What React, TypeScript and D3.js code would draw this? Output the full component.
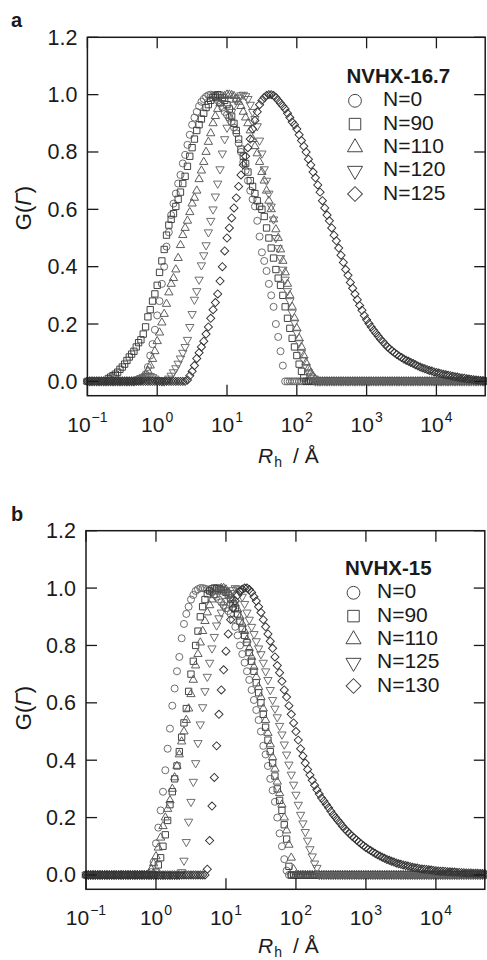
import React from 'react';
import * as d3 from 'd3';

const FONT = '"Liberation Sans", Arial, Helvetica, sans-serif';

// R_h grid of the size distributions: starts at 10^-1 Å, 30 points per decade, up to 5x10^4 Å
const R_FIRST_EXP = -1;
const R_PER_DECADE = 30;
const R_COUNT = 172;

const X_TICK_EXPS = [-1, 0, 1, 2, 3, 4];
const Y_TICKS = [0, 0.2, 0.4, 0.6, 0.8, 1.0, 1.2];

// ---- panel a : NVHX-16.7  (G(Γ) values, first one sits at grid index *_START, zero elsewhere)
const A_LABELS = ['N=0', 'N=90', 'N=110', 'N=120', 'N=125'];

const A_N0_START = 23;
const A_N0 = [
  0.005, 0.01, 0.025, 0.05, 0.09, 0.13, 0.18, 0.23, 0.28, 0.34,
  0.40, 0.47, 0.52, 0.58, 0.62, 0.655, 0.69, 0.72, 0.76, 0.79,
  0.825, 0.86, 0.895, 0.92, 0.94, 0.96, 0.975, 0.985, 0.993, 0.998,
  1.0, 0.998, 0.99, 0.98, 0.97, 0.955, 0.94, 0.93, 0.92, 0.905,
  0.885, 0.865, 0.83, 0.8, 0.765, 0.735, 0.70, 0.665, 0.635, 0.61,
  0.56, 0.505, 0.45, 0.42, 0.385, 0.34, 0.30, 0.26, 0.2, 0.155,
  0.105, 0.055,
];

const A_N90_START = 9;
const A_N90 = [
  0.01, 0.015, 0.02, 0.025, 0.032, 0.042, 0.05, 0.06, 0.073, 0.085,
  0.095, 0.105, 0.12, 0.135, 0.145, 0.165, 0.19, 0.225, 0.25, 0.28,
  0.305, 0.335, 0.38, 0.42, 0.46, 0.51, 0.545, 0.565, 0.585, 0.61,
  0.635, 0.66, 0.69, 0.715, 0.75, 0.785, 0.815, 0.845, 0.875, 0.895,
  0.915, 0.935, 0.955, 0.965, 0.98, 0.99, 0.995, 1.0, 0.998, 0.99,
  0.98, 0.965, 0.95, 0.925, 0.9, 0.875, 0.845, 0.81, 0.785, 0.76,
  0.73, 0.70, 0.68, 0.655, 0.63, 0.61, 0.6, 0.575, 0.535, 0.5,
  0.465, 0.43, 0.39, 0.36, 0.335, 0.3, 0.26, 0.22, 0.185, 0.15,
  0.12, 0.09, 0.06, 0.035, 0.012,
];

const A_N110_START = 23;
const A_N110 = [
  0.005, 0.01, 0.022, 0.037, 0.055, 0.078, 0.105, 0.14, 0.17, 0.205,
  0.235, 0.27, 0.31, 0.34, 0.36, 0.39, 0.43, 0.475, 0.51, 0.535,
  0.56, 0.59, 0.62, 0.64, 0.665, 0.705, 0.735, 0.765, 0.8, 0.835,
  0.865, 0.9, 0.925, 0.95, 0.97, 0.985, 0.995, 1.0, 1.0, 0.998,
  0.995, 0.985, 0.975, 0.96, 0.94, 0.92, 0.9, 0.875, 0.845, 0.82,
  0.795, 0.765, 0.73, 0.7, 0.665, 0.63, 0.6, 0.565, 0.53, 0.5,
  0.46, 0.42, 0.38, 0.34, 0.3, 0.26, 0.22, 0.185, 0.15, 0.12,
  0.09, 0.065, 0.045, 0.03, 0.018, 0.008, 0.003,
];

const A_N120_START = 21;
const A_N120 = [
  0.004, 0.008, 0.012, 0.016, 0.019, 0.02, 0.019, 0.015, 0.01, 0.005,
  0.002, 0, 0, 0.004, 0.01, 0.02, 0.032, 0.046, 0.062, 0.08,
  0.1, 0.12, 0.145, 0.19, 0.235, 0.285, 0.315, 0.355, 0.405, 0.44,
  0.475, 0.52, 0.56, 0.6, 0.645, 0.69, 0.74, 0.795, 0.845, 0.885,
  0.91, 0.94, 0.965, 0.98, 0.99, 0.998, 1.0, 0.995, 0.985, 0.965,
  0.94, 0.915, 0.89, 0.84, 0.795, 0.74, 0.7, 0.655, 0.61, 0.565,
  0.5, 0.465, 0.43, 0.39, 0.355, 0.315, 0.28, 0.24, 0.205, 0.17,
  0.135, 0.1, 0.075, 0.05, 0.032, 0.018, 0.006,
];

const A_N125_START = 43;
const A_N125 = [
  0.005, 0.02, 0.035, 0.055, 0.08, 0.1, 0.12, 0.14, 0.165, 0.19,
  0.22, 0.25, 0.275, 0.305, 0.35, 0.4, 0.455, 0.5, 0.535, 0.57,
  0.605, 0.64, 0.68, 0.72, 0.755, 0.785, 0.815, 0.845, 0.88, 0.91,
  0.94, 0.965, 0.98, 0.99, 0.997, 1.0, 1.0, 0.997, 0.99, 0.98,
  0.97, 0.96, 0.95, 0.935, 0.92, 0.905, 0.895, 0.88, 0.86, 0.84,
  0.82, 0.8, 0.775, 0.755, 0.73, 0.71, 0.685, 0.66, 0.63, 0.605,
  0.58, 0.56, 0.535, 0.51, 0.49, 0.465, 0.44, 0.415, 0.39, 0.37,
  0.345, 0.325, 0.305, 0.285, 0.265, 0.248, 0.23, 0.215, 0.202, 0.19,
  0.178, 0.168, 0.157, 0.147, 0.138, 0.129, 0.12, 0.113, 0.106, 0.1,
  0.094, 0.088, 0.083, 0.078, 0.074, 0.07, 0.066, 0.062, 0.058, 0.054,
  0.05, 0.047, 0.044, 0.041, 0.038, 0.036, 0.033, 0.031, 0.029, 0.027,
  0.025, 0.023, 0.021, 0.02, 0.018, 0.016, 0.015, 0.013, 0.012, 0.011,
  0.009, 0.008, 0.007, 0.006, 0.005, 0.004, 0.003, 0.002, 0.001,
];

// ---- panel b : NVHX-15
const B_LABELS = ['N=0', 'N=90', 'N=110', 'N=125', 'N=130'];

const B_N0_START = 28;
const B_N0 = [
  0.01, 0.045, 0.11, 0.165, 0.225, 0.29, 0.365, 0.44, 0.51, 0.59,
  0.65, 0.71, 0.76, 0.825, 0.875, 0.91, 0.935, 0.96, 0.976, 0.99,
  0.996, 1.0, 1.0, 0.998, 0.995, 0.99, 0.985, 0.978, 0.97, 0.96,
  0.95, 0.94, 0.93, 0.92, 0.91, 0.89, 0.865, 0.835, 0.8, 0.77,
  0.74, 0.71, 0.68, 0.645, 0.61, 0.575, 0.54, 0.5, 0.45, 0.42,
  0.38, 0.335, 0.295, 0.255, 0.2, 0.145, 0.1, 0.055, 0.015,
];

const B_N90_START = 30;
const B_N90 = [
  0.01, 0.035, 0.06, 0.1, 0.14, 0.19, 0.245, 0.29, 0.335, 0.38,
  0.43, 0.48, 0.53, 0.58, 0.64, 0.7, 0.745, 0.8, 0.85, 0.9,
  0.935, 0.96, 0.98, 0.99, 0.997, 1.0, 1.0, 0.998, 0.995, 0.99,
  0.985, 0.975, 0.96, 0.945, 0.93, 0.91, 0.885, 0.86, 0.835, 0.81,
  0.775, 0.745, 0.71, 0.67, 0.635, 0.6, 0.56, 0.515, 0.47, 0.43,
  0.39, 0.345, 0.3, 0.26, 0.225, 0.175, 0.125, 0.03,
];

const B_N110_START = 27;
const B_N110 = [
  0.005, 0.02, 0.04, 0.065, 0.095, 0.13, 0.17, 0.2, 0.23, 0.26,
  0.3, 0.34, 0.38, 0.42, 0.465, 0.5, 0.54, 0.58, 0.63, 0.68,
  0.73, 0.77, 0.81, 0.85, 0.885, 0.915, 0.94, 0.96, 0.975, 0.988,
  0.995, 1.0, 1.0, 0.995, 0.985, 0.975, 0.96, 0.945, 0.925, 0.9,
  0.875, 0.85, 0.82, 0.79, 0.76, 0.725, 0.69, 0.655, 0.62, 0.58,
  0.54, 0.495, 0.455, 0.41, 0.37, 0.325, 0.285, 0.245, 0.2, 0.155,
  0.105, 0.06, 0.02,
];

const B_N125_START = 41;
const B_N125 = [
  0.01, 0.05, 0.115, 0.186, 0.255, 0.325, 0.39, 0.46, 0.525, 0.585,
  0.641, 0.691, 0.74, 0.79, 0.83, 0.87, 0.895, 0.915, 0.935, 0.955,
  0.97, 0.983, 0.993, 1.0, 0.998, 0.99, 0.97, 0.945, 0.915, 0.89,
  0.865, 0.84, 0.815, 0.79, 0.77, 0.74, 0.71, 0.68, 0.645, 0.61,
  0.58, 0.55, 0.52, 0.49, 0.455, 0.42, 0.385, 0.35, 0.315, 0.28,
  0.245, 0.21, 0.18, 0.15, 0.12, 0.09, 0.065, 0.04, 0.025,
];

const B_N130_START = 52;
const B_N130 = [
  0.02, 0.12, 0.24, 0.34, 0.45, 0.56, 0.645, 0.715, 0.78, 0.84,
  0.89, 0.93, 0.955, 0.975, 0.988, 0.996, 1.0, 1.0, 0.995, 0.985,
  0.97, 0.955, 0.935, 0.915, 0.89, 0.865, 0.84, 0.815, 0.79, 0.76,
  0.73, 0.705, 0.675, 0.645, 0.62, 0.59, 0.56, 0.53, 0.5, 0.47,
  0.44, 0.415, 0.39, 0.368, 0.348, 0.33, 0.313, 0.297, 0.282, 0.268,
  0.258, 0.246, 0.234, 0.222, 0.21, 0.2, 0.19, 0.18, 0.17, 0.16,
  0.152, 0.144, 0.136, 0.129, 0.122, 0.115, 0.108, 0.102, 0.096, 0.09,
  0.085, 0.08, 0.075, 0.07, 0.066, 0.062, 0.058, 0.054, 0.051, 0.048,
  0.045, 0.042, 0.039, 0.037, 0.035, 0.033, 0.031, 0.029, 0.027, 0.025,
  0.024, 0.022, 0.021, 0.02, 0.019, 0.018, 0.017, 0.016, 0.015, 0.014,
  0.013, 0.013, 0.012, 0.011, 0.011, 0.01, 0.01, 0.009, 0.009, 0.008,
  0.008, 0.007, 0.007, 0.007, 0.006, 0.006, 0.006, 0.005, 0.005, 0.005,
];

const rGrid = d3.range(R_COUNT).map((k) => Math.pow(10, R_FIRST_EXP + k / R_PER_DECADE));

const expand = (start: number, values: number[]) =>
  rGrid.map((r, k) => ({
    r,
    g: k >= start && k < start + values.length ? values[k - start] : 0,
  }));

// marker kinds, in legend order
const MARKERS = ['circle', 'square', 'up', 'down', 'diamond'];
const STROKES = ['#666', '#3a3a3a', '#555', '#666', '#333'];

const symbolPath = (kind: string, big: boolean) => {
  const k = big ? 3.3 : 1;
  if (kind === 'circle') return d3.symbol(d3.symbolCircle, 39 * k)()!;
  if (kind === 'square') return d3.symbol(d3.symbolSquare, 40 * k)()!;
  if (kind === 'up' || kind === 'down') return d3.symbol(d3.symbolTriangle, 30 * k)()!;
  return d3.symbol(d3.symbolSquare, 33 * k)()!;
};
const symbolRot = (kind: string) => (kind === 'down' ? 180 : kind === 'diamond' ? 45 : 0);

type PanelProps = {
  letter: string;
  title: string;
  labels: string[];
  series: { r: number; g: number }[][];
  box: { left: number; right: number; top: number; bottom: number };
  legend: { x: number; y: number; labelX: number; markerX: number };
  yLabelY: number;
  xLabelY: number;
};

const Panel = ({ letter, title, labels, series, box, legend, yLabelY, xLabelY }: PanelProps) => {
  const x = d3.scaleLog().domain([0.1, 5e4]).range([box.left, box.right]);
  const y = d3.scaleLinear().domain([-0.05, 1.2]).range([box.bottom, box.top]);
  const tick = 11;
  const ink = '#1a1a1a';

  return (
    <g fontFamily={FONT}>
      <text x={11} y={box.top - 10} fontSize={20} fontWeight="bold" fill={ink}>{letter}</text>

      {/* data markers */}
      {series.map((pts, si) => {
        const kind = MARKERS[si];
        const d = symbolPath(kind, false);
        const rot = symbolRot(kind);
        return (
          <g key={si} fill="none" stroke={STROKES[si]} strokeWidth={0.95}>
            {pts.map((p, i) => (
              <path key={i} d={d}
                transform={`translate(${x(p.r).toFixed(2)},${y(p.g).toFixed(2)}) rotate(${rot})`} />
            ))}
          </g>
        );
      })}

      {/* frame */}
      <rect x={box.left} y={box.top} width={box.right - box.left} height={box.bottom - box.top}
        fill="none" stroke={ink} strokeWidth={1.5} />

      {/* x ticks, inside on bottom and top */}
      {X_TICK_EXPS.map((e) => {
        const px = x(Math.pow(10, e));
        return (
          <g key={e}>
            <line x1={px} x2={px} y1={box.bottom} y2={box.bottom - tick} stroke={ink} strokeWidth={1.3} />
            <line x1={px} x2={px} y1={box.top} y2={box.top + tick} stroke={ink} strokeWidth={1.3} />
            <text x={px} y={box.bottom + 36} fontSize={21} textAnchor="middle" fill={ink}>
              10<tspan fontSize={14} dx={1} dy={-10}>{e < 0 ? '\u2212' + Math.abs(e) : e}</tspan>
            </text>
          </g>
        );
      })}

      {/* y ticks, inside on left and right */}
      {Y_TICKS.map((v) => {
        const py = y(v);
        return (
          <g key={v}>
            <line x1={box.left} x2={box.left + tick} y1={py} y2={py} stroke={ink} strokeWidth={1.3} />
            <line x1={box.right} x2={box.right - tick} y1={py} y2={py} stroke={ink} strokeWidth={1.3} />
            <text x={box.left - 10} y={py + 7.5} fontSize={21.5} textAnchor="end" fill={ink}>{v.toFixed(1)}</text>
          </g>
        );
      })}

      {/* axis titles */}
      <text transform={`translate(31,${yLabelY}) rotate(-90)`} fontSize={22} textAnchor="middle" fill={ink}>
        G(<tspan fontStyle="italic">{'\u0393'}</tspan>)
      </text>
      <text x={258} y={xLabelY} fontSize={21} fill={ink}>
        <tspan fontStyle="italic">R</tspan>
        <tspan fontSize={14} dx={1} dy={4}>h</tspan>
        <tspan dx={11} dy={-4}>/ {'\u00C5'}</tspan>
      </text>

      {/* legend */}
      <text x={legend.x} y={legend.y} fontSize={20.5} fontWeight="bold" fill={ink}>{title}</text>
      {labels.map((lab, i) => {
        const base = legend.y + 23.3 * (i + 1);
        const kind = MARKERS[i];
        return (
          <g key={lab}>
            <path d={symbolPath(kind, true)} fill="none" stroke="#444" strokeWidth={1}
              transform={`translate(${legend.markerX},${base - 5.5}) rotate(${symbolRot(kind)})`} />
            <text x={legend.labelX} y={base} fontSize={21} fill={ink}>{lab}</text>
          </g>
        );
      })}
    </g>
  );
};

const App = () => {
  const aSeries = [
    expand(A_N0_START, A_N0),
    expand(A_N90_START, A_N90),
    expand(A_N110_START, A_N110),
    expand(A_N120_START, A_N120),
    expand(A_N125_START, A_N125),
  ];
  const bSeries = [
    expand(B_N0_START, B_N0),
    expand(B_N90_START, B_N90),
    expand(B_N110_START, B_N110),
    expand(B_N125_START, B_N125),
    expand(B_N130_START, B_N130),
  ];

  return (
    <svg width={487} height={960} viewBox="0 0 487 960"
      style={{ position: 'absolute', left: 0, top: 0, background: '#fff' }}>
      <rect width={487} height={960} fill="#fff" />
      <Panel letter="a" title="NVHX-16.7" labels={A_LABELS} series={aSeries}
        box={{ left: 87.4, right: 485.2, top: 37.3, bottom: 395.7 }}
        legend={{ x: 346.5, y: 83, labelX: 383, markerX: 355 }}
        yLabelY={208} xLabelY={463} />
      <Panel letter="b" title="NVHX-15" labels={B_LABELS} series={bSeries}
        box={{ left: 86, right: 484.8, top: 530.7, bottom: 889.3 }}
        legend={{ x: 345, y: 575, labelX: 377, markerX: 353.5 }}
        yLabelY={708} xLabelY={953} />
    </svg>
  );
};

export default App;
